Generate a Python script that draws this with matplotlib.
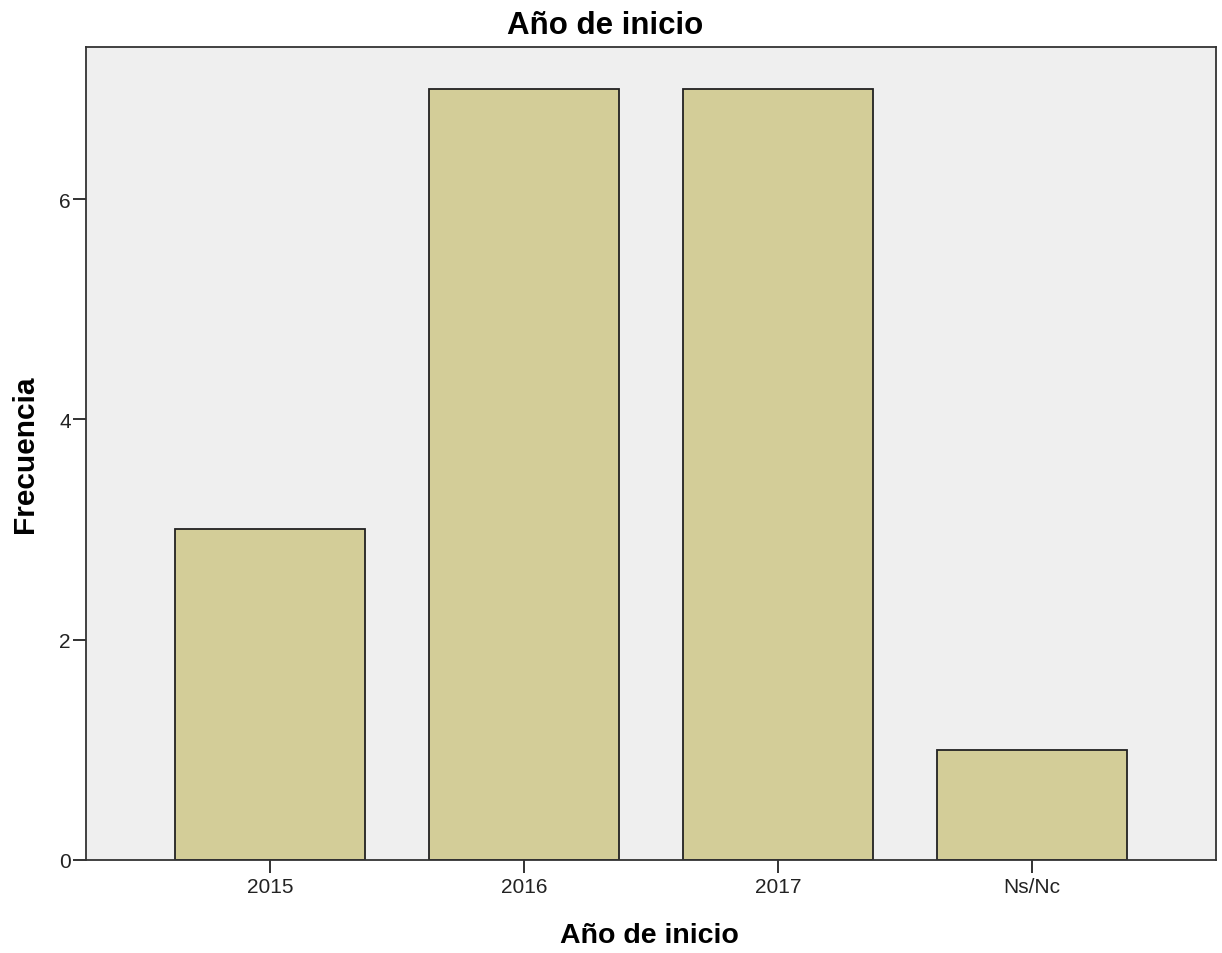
import matplotlib
matplotlib.use("Agg")
import matplotlib.pyplot as plt

categories = ["2015", "2016", "2017", "Ns/Nc"]
frequencies = [3, 7, 7, 1]
y_ticks = [0, 2, 4, 6]

plt.rcParams['font.family'] = ['Liberation Sans', 'DejaVu Sans']

W, H = 1222, 954
fig = plt.figure(figsize=(W / 100, H / 100), dpi=100)
ax = fig.add_axes([0.0704, 0.0975, 0.9246, 0.8522])
ax.set_facecolor('#efefef')
x = list(range(len(categories)))
ax.bar(x, frequencies, width=0.747, color='#d3cd98', edgecolor='#222222', linewidth=1.3)
ax.set_xlim(-0.723, len(categories) - 1 + 0.723)
ax.set_ylim(0, 7.38)
ax.set_xticks(x)
ax.set_xticklabels(categories)
ax.set_yticks(y_ticks)
ax.tick_params(axis='both', direction='out', length=9.5, width=1.3, labelsize=15,
               colors='#222222', labelcolor='#222222')
ax.tick_params(axis='x', pad=2.5)
ax.tick_params(axis='y', pad=1.5)
for s in ax.spines.values():
    s.set_color('#333333')
    s.set_linewidth(1.3)
ax.set_title('Año de inicio', fontsize=22.5, fontweight='bold', pad=10,
             x=(605 - 86) / 1130)
ax.set_xlabel('Año de inicio', fontsize=20.5, fontweight='bold', va='center')
ax.xaxis.set_label_coords(649 / W, 1 - 936 / H, transform=fig.transFigure)
ax.set_ylabel('Frecuencia', fontsize=21.5, fontweight='bold', va='center')
ax.yaxis.set_label_coords(25 / W, 1 - 454 / H, transform=fig.transFigure)
fig.savefig('out.png', dpi=100)
